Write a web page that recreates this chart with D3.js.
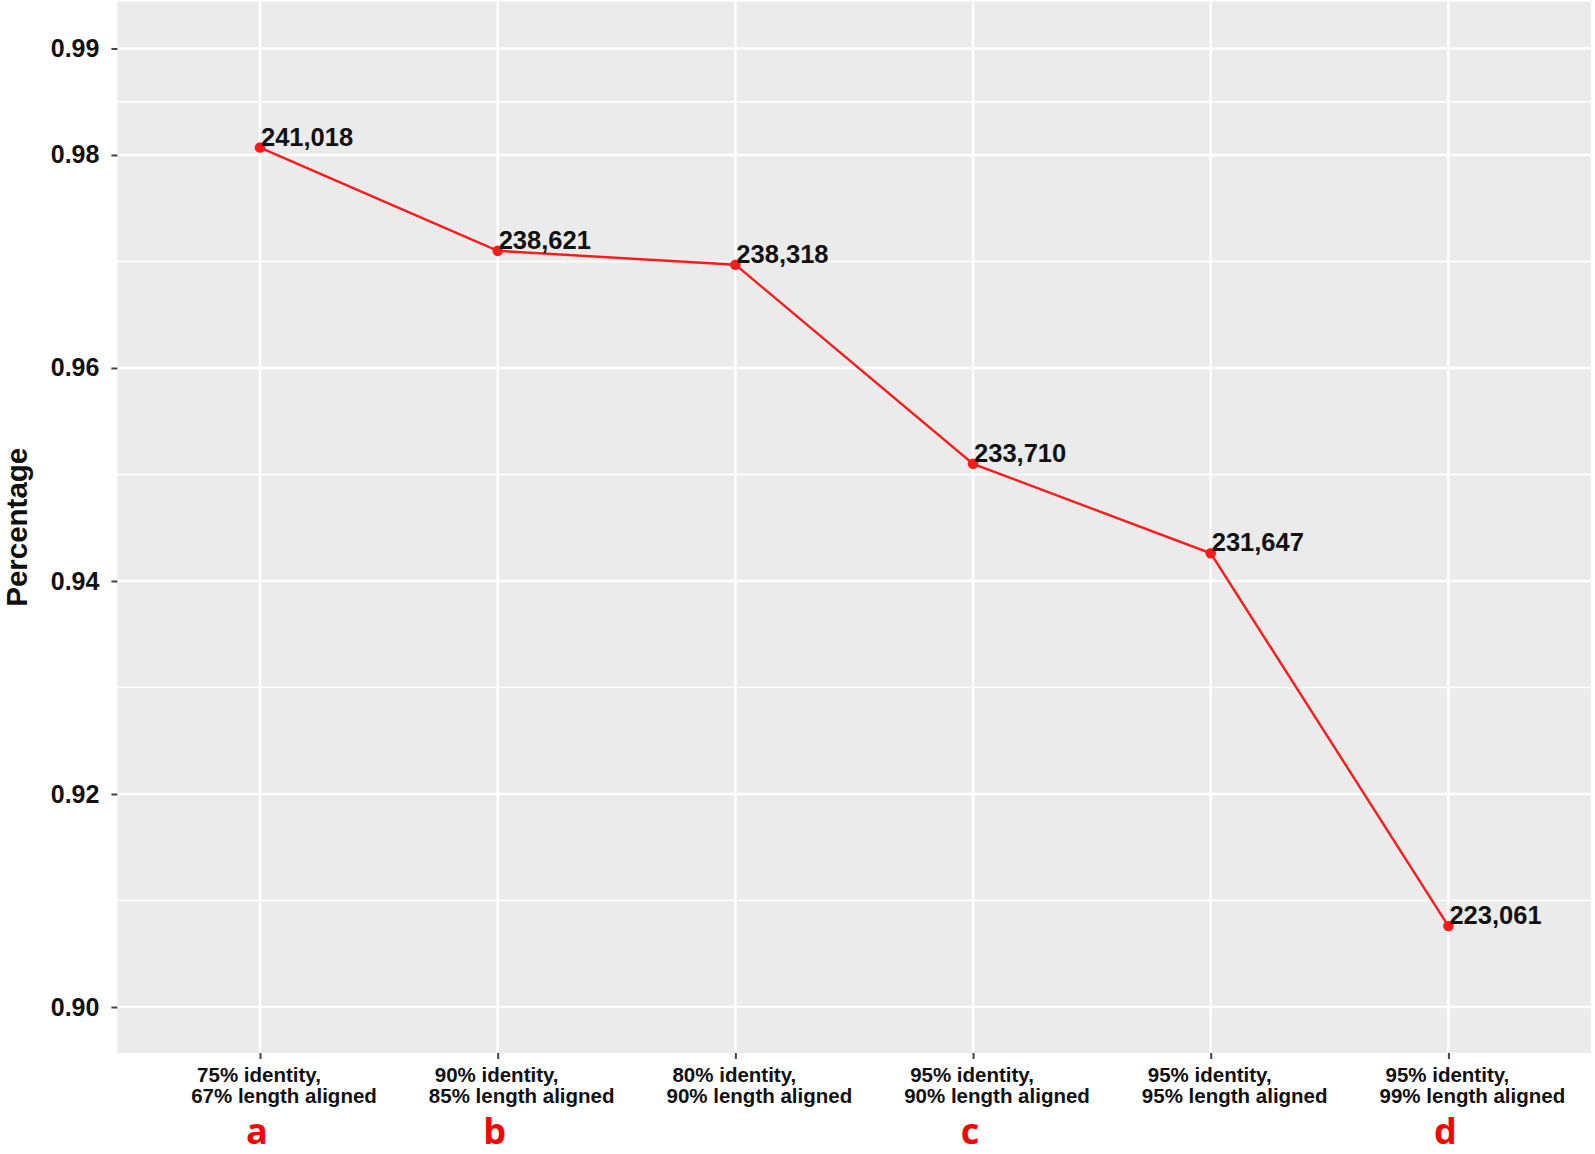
<!DOCTYPE html>
<html>
<head>
<meta charset="utf-8">
<script src="https://cdn.jsdelivr.net/npm/d3@7"></script>
<style>
  body { margin: 0; background: #fff; }
  svg { display: block; font-family: "Liberation Sans", Arial, sans-serif; }
</style>
</head>
<body>
<svg width="1595" height="1154"></svg>
<script>
// data
var identity = ["75% identity,", "90% identity,", "80% identity,", "95% identity,", "95% identity,", "95% identity,"];
var aligned = ["67% length aligned", "85% length aligned", "90% length aligned", "90% length aligned", "95% length aligned", "99% length aligned"];
var percentage = [0.9807, 0.9710, 0.9697, 0.9510, 0.9426, 0.9076];
var counts = ["241,018", "238,621", "238,318", "233,710", "231,647", "223,061"];
var majorTicks = [0.90, 0.92, 0.94, 0.96, 0.98, 0.99];
var minorTicks = [0.91, 0.93, 0.95, 0.97, 0.985];
var markers = [{i: 0, t: "a"}, {i: 1, t: "b"}, {i: 3, t: "c"}, {i: 5, t: "d"}];

var svg = d3.select("svg"),
    margin = {top: 1.5, right: 4, bottom: 101, left: 117.4},
    width = +svg.attr("width") - margin.left - margin.right,
    height = +svg.attr("height") - margin.top - margin.bottom,
    g = svg.append("g").attr("transform", "translate(" + margin.left + "," + margin.top + ")");

var idx = d3.range(percentage.length);

var x = d3.scalePoint()
    .domain(idx)
    .range([0, width])
    .padding(0.6);

var y = d3.scaleLinear()
    .domain([0.895681, 0.994413])
    .range([height, 0]);

// panel
g.append("rect")
    .attr("width", width)
    .attr("height", height)
    .attr("fill", "#ebebeb");

g.selectAll(".minor")
    .data(minorTicks)
    .enter().append("line")
      .attr("x1", 0).attr("x2", width)
      .attr("y1", function(d) { return y(d); })
      .attr("y2", function(d) { return y(d); })
      .attr("stroke", "#fff")
      .attr("stroke-width", 1.4);

g.selectAll(".major")
    .data(majorTicks)
    .enter().append("line")
      .attr("x1", 0).attr("x2", width)
      .attr("y1", function(d) { return y(d); })
      .attr("y2", function(d) { return y(d); })
      .attr("stroke", "#fff")
      .attr("stroke-width", 2.6);

g.selectAll(".vgrid")
    .data(idx)
    .enter().append("line")
      .attr("x1", function(d) { return x(d); })
      .attr("x2", function(d) { return x(d); })
      .attr("y1", 0).attr("y2", height)
      .attr("stroke", "#fff")
      .attr("stroke-width", 2.6);

// y axis
var yAxis = g.append("g")
    .call(d3.axisLeft(y).tickValues(majorTicks).tickSize(6).tickPadding(12).tickFormat(d3.format(".2f")));
yAxis.select(".domain").remove();
yAxis.selectAll("line").attr("stroke", "#444").attr("stroke-width", 2);
yAxis.selectAll("text")
    .attr("font-size", 25)
    .attr("font-weight", "bold")
    .attr("fill", "#111")
    .attr("font-family", "Liberation Sans, Arial, sans-serif");

// x axis
var xAxis = g.append("g")
    .attr("transform", "translate(0," + height + ")")
    .call(d3.axisBottom(x).tickSize(6).tickFormat(""));
xAxis.select(".domain").remove();
xAxis.selectAll("line").attr("stroke", "#444").attr("stroke-width", 2);

var xl = g.append("g")
    .attr("font-size", 20.5)
    .attr("font-weight", "bold")
    .attr("fill", "#111")
    .attr("text-anchor", "middle");

xl.selectAll(".l1")
    .data(idx)
    .enter().append("text")
      .attr("x", function(d) { return x(d) - 1; })
      .attr("y", height + 29)
      .text(function(d) { return identity[d]; });

xl.selectAll(".l2")
    .data(idx)
    .enter().append("text")
      .attr("x", function(d) { return x(d) + 24; })
      .attr("y", height + 50)
      .text(function(d) { return aligned[d]; });

// red letters
g.selectAll(".mark")
    .data(markers)
    .enter().append("text")
      .attr("x", function(d) { return x(d.i) - 3; })
      .attr("y", height + 91)
      .attr("text-anchor", "middle")
      .attr("font-family", "Open Sans, sans-serif")
      .attr("font-weight", "bold")
      .attr("font-size", 36)
      .attr("fill", "#ff0000")
      .text(function(d) { return d.t; });

// y title
svg.append("text")
    .attr("transform", "rotate(-90)")
    .attr("x", -(margin.top + height / 2))
    .attr("y", 27)
    .attr("text-anchor", "middle")
    .attr("font-size", 29.5)
    .attr("font-weight", "bold")
    .attr("fill", "#111")
    .text("Percentage");

// line + points
var line = d3.line()
    .x(function(d) { return x(d); })
    .y(function(d) { return y(percentage[d]); });

g.append("path")
    .datum(idx)
    .attr("d", line)
    .attr("fill", "none")
    .attr("stroke", "#ff1a1a")
    .attr("stroke-width", 2.4);

g.selectAll(".pt")
    .data(idx)
    .enter().append("circle")
      .attr("cx", function(d) { return x(d); })
      .attr("cy", function(d) { return y(percentage[d]); })
      .attr("r", 5.3)
      .attr("fill", "#ff1a1a");

g.selectAll(".lab")
    .data(idx)
    .enter().append("text")
      .attr("x", function(d) { return x(d) + 1; })
      .attr("y", function(d) { return y(percentage[d]) - 2; })
      .attr("font-size", 25.5)
      .attr("font-weight", "bold")
      .attr("fill", "#111")
      .text(function(d) { return counts[d]; });
</script>
</body>
</html>
